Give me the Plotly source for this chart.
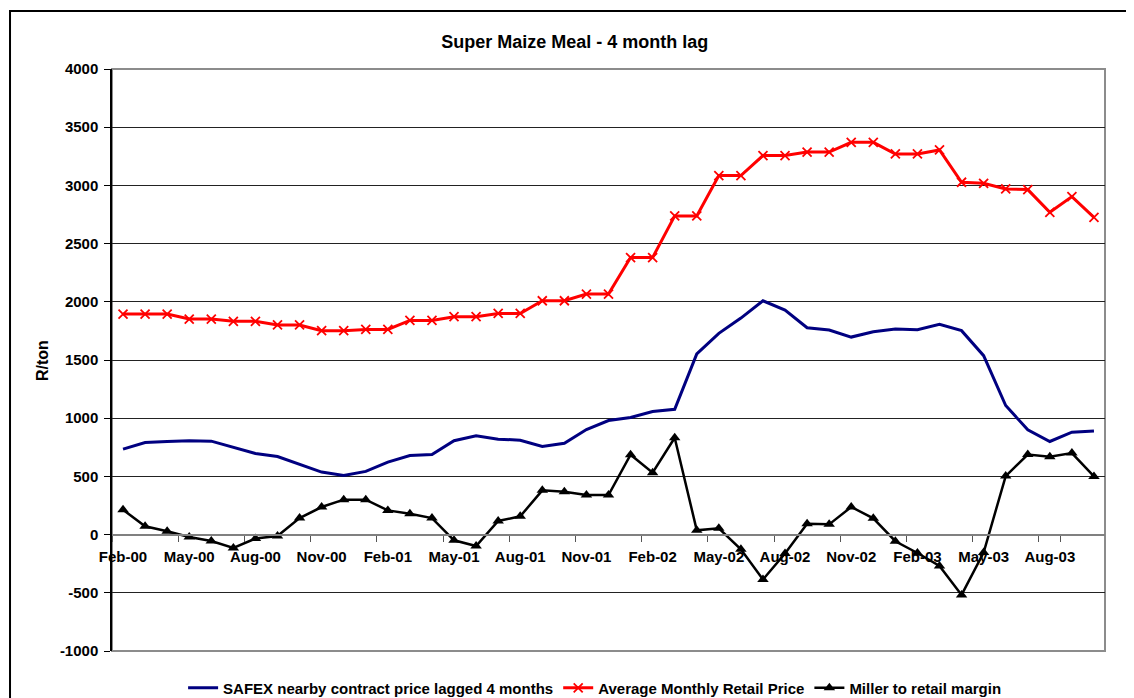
import plotly.graph_objects as go

months = ["Feb-00", "Mar-00", "Apr-00", "May-00", "Jun-00", "Jul-00", "Aug-00", "Sep-00", "Oct-00", "Nov-00", "Dec-00",
          "Jan-01", "Feb-01", "Mar-01", "Apr-01", "May-01", "Jun-01", "Jul-01", "Aug-01", "Sep-01", "Oct-01", "Nov-01", "Dec-01",
          "Jan-02", "Feb-02", "Mar-02", "Apr-02", "May-02", "Jun-02", "Jul-02", "Aug-02", "Sep-02", "Oct-02", "Nov-02", "Dec-02",
          "Jan-03", "Feb-03", "Mar-03", "Apr-03", "May-03", "Jun-03", "Jul-03", "Aug-03", "Sep-03", "Oct-03"]

safex = [734, 791, 800, 806, 803, 751, 697, 671, 603, 537, 508, 543, 623, 680, 688,
         806, 849, 820, 811, 757, 785, 903, 980, 1006, 1057, 1077, 1552, 1729, 1860, 2009,
         1929, 1777, 1757, 1697, 1743, 1766, 1760, 1806, 1752, 1537, 1109, 900, 800, 880, 891]

retail = [1895, 1895, 1895, 1852, 1852, 1832, 1832, 1801, 1801, 1752, 1752, 1763, 1763, 1840, 1840,
          1872, 1872, 1900, 1900, 2009, 2009, 2066, 2066, 2380, 2380, 2738, 2738, 3084, 3084, 3256,
          3256, 3286, 3286, 3370, 3370, 3270, 3270, 3305, 3027, 3018, 2970, 2964, 2769, 2904, 2726]

margin = [214, 71, 28, -20, -55, -115, -34, -12, 142, 237, 300, 300, 208, 180, 142,
          -49, -98, 117, 157, 380, 369, 340, 340, 686, 532, 832, 37, 54, -126, -386,
          -163, 94, 88, 237, 140, -57, -158, -269, -518, -154, 503, 688, 669, 700, 500]

tick_labels = months[::3]
y_tick_vals = [-1000, -500, 0, 500, 1000, 1500, 2000, 2500, 3000, 3500, 4000]
y_tick_text = ["-1000", "-500", "0", "500", "1000", "1500", "2000", "2500", "3000", "3500", "4000"]

FONT = "Arial, Liberation Sans, sans-serif"

# the page body adds an 8px offset, so the figure is 8px smaller and shifted
W, H = 1126, 690

fig = go.Figure()
fig.add_trace(go.Scatter(x=months, y=safex, mode="lines",
                         name="SAFEX nearby contract price lagged 4 months",
                         line=dict(color="#000080", width=3)))
fig.add_trace(go.Scatter(x=months, y=retail, mode="lines+markers",
                         name="Average Monthly Retail Price",
                         line=dict(color="#FF0000", width=3),
                         marker=dict(symbol="x-thin", size=9, color="#FF0000",
                                     line=dict(color="#FF0000", width=1.8))))
fig.add_trace(go.Scatter(x=months, y=margin, mode="lines+markers",
                         name="Miller to retail margin",
                         line=dict(color="#000000", width=2.5),
                         marker=dict(symbol="triangle-up", size=10, color="#000000")))

fig.update_layout(
    width=W, height=H,
    margin=dict(l=104, r=29, t=61, b=47, autoexpand=False),
    paper_bgcolor="white", plot_bgcolor="white",
    font=dict(family=FONT, color="black"),
    title=dict(text="Super Maize Meal - 4 month lag", x=0.466, xref="paper",
               xanchor="center", y=1 - 34 / H, yanchor="middle",
               font=dict(size=18, weight="bold", family=FONT)),
    showlegend=True,
    legend=dict(orientation="h", x=0.486, xanchor="center", y=-0.0636, yanchor="middle",
                font=dict(size=15, weight="bold", family=FONT),
                bgcolor="rgba(0,0,0,0)", itemwidth=30, tracegroupgap=0),
    xaxis=dict(type="category", categoryorder="array", categoryarray=months,
               range=[-0.5, len(months) - 0.5],
               tickmode="array", tickvals=tick_labels, ticktext=tick_labels,
               tickson="boundaries", ticks="outside", ticklen=6, tickcolor="#555555",
               tickangle=0, automargin=False, ticklabelstandoff=8,
               showline=True, linecolor="#808080", linewidth=2,
               anchor="free", position=0.2, showgrid=False, zeroline=False,
               tickfont=dict(size=15, weight="bold", family=FONT)),
    yaxis=dict(range=[-1000, 4000], tickmode="array", tickvals=y_tick_vals, ticktext=y_tick_text,
               automargin=False,
               showgrid=True, gridcolor="#222222", gridwidth=1,
               zeroline=False, showline=True, linecolor="black", linewidth=1.5,
               ticks="outside", ticklen=6, tickcolor="black", ticklabelstandoff=3,
               tickfont=dict(size=15, weight="bold", family=FONT)),
    shapes=[
        dict(type="rect", xref="paper", yref="paper", x0=0, x1=1, y0=0, y1=1,
             line=dict(color="#8c8c8c", width=2), layer="below"),
        dict(type="rect", xref="paper", yref="paper", x0=-0.1027, x1=1.04, y0=-0.095, y1=1.0997,
             line=dict(color="black", width=2), layer="below"),
    ],
    annotations=[
        dict(text="R/ton", xref="paper", yref="paper", x=-0.0705, y=0.5,
             textangle=-90, showarrow=False, xanchor="center", yanchor="middle",
             font=dict(size=16, weight="bold", family=FONT)),
    ],
)

fig.write_html("out.html")
